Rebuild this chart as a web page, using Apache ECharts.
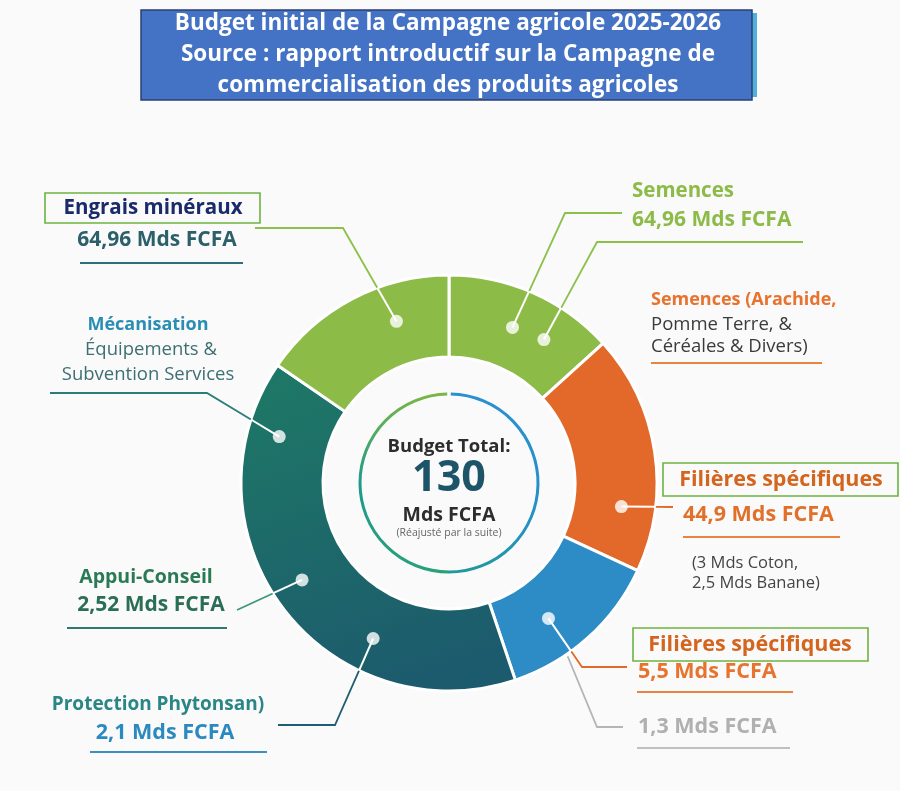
<!DOCTYPE html>
<html><head><meta charset="utf-8">
<script src="https://cdn.jsdelivr.net/npm/echarts@6/dist/echarts.min.js"></script>
<style>html,body{margin:0;padding:0;background:#fafafa}#c{width:900px;height:791px}</style>
</head><body><div id="c"></div>
<script>
// ---- data ----
const segmentNames = ['Semences', 'Filières spécifiques (44,9)', 'Filières spécifiques (5,5)', 'Mécanisation / Appui-Conseil / Protection', 'Engrais minéraux'];
const segmentArc = [47.8, 67.1, 46.5, 143.1, 55.5];           // share of the ring, in degrees
const calloutKeys = ['semences1', 'semences2', 'filieres449', 'filieres55', 'gris13', 'protection', 'appui', 'mecanisation', 'engrais'];
const calloutAngle = [22.2, 33.5, 97.8, 143.7, 145.6, 206, 236.6, 285.3, 342];
const calloutRadius = [168, 172, 174, 168, 210, 173, 176, 176, 170];
const calloutDot = [true, true, true, true, false, true, true, true, true];
const titleLines = ['Budget initial de la Campagne agricole 2025-2026', 'Source : rapport introductif sur la Campagne de', 'commercialisation des produits agricoles'];
const centerLines = ['Budget Total:', '130', 'Mds FCFA', '(Réajusté par la suite)'];

// ---- layout / style ----
const C = {cx: 449, cy: 483, r0: 126, r1: 208};
const FONT = '"Open Sans"';
const darkGrad = new echarts.graphic.LinearGradient(0.2, 0, 0.6, 1, [
  {offset: 0, color: '#1e7866'}, {offset: 1, color: '#1c5a6d'}]);
const segColors = ['#8dbb47', '#e2692a', '#2d8bc5', darkGrad, '#8dbb47'];

const chart = echarts.init(document.getElementById('c'));
chart.setOption({
  backgroundColor: '#fafafa',
  animation: false,
  polar: {center: [C.cx, C.cy], radius: C.r1},
  angleAxis: {type: 'value', min: 0, max: 360, startAngle: 90, clockwise: true, show: false,
    axisLine: {show: false}, axisTick: {show: false}, axisLabel: {show: false}, splitLine: {show: false}},
  radiusAxis: {type: 'value', min: 0, max: C.r1, show: false,
    axisLine: {show: false}, axisTick: {show: false}, axisLabel: {show: false}, splitLine: {show: false}},
  series: [
    {
      type: 'pie', center: [C.cx, C.cy], radius: [C.r0, C.r1], startAngle: 90, clockwise: true,
      silent: true, z: 2, label: {show: false}, labelLine: {show: false},
      itemStyle: {borderColor: '#ffffff', borderWidth: 3},
      data: segmentNames.map((n, i) => ({name: n, value: segmentArc[i], itemStyle: {color: segColors[i]}}))
    },
    {
      type: 'scatter', coordinateSystem: 'polar', silent: true, z: 12, symbol: 'circle',
      itemStyle: {color: '#ffffff'},
      data: calloutKeys.map((k, i) => ({name: k, value: [calloutRadius[i], calloutAngle[i]], symbolSize: calloutDot[i] ? 13 : 0}))
    }
  ]
});

// ---- annotations ----
function txt(text, x, y, size, color, o) {
  o = o || {};
  return {type: 'text', x: x, y: y, z: 20, silent: true,
    style: {text: text, fontFamily: FONT, fontSize: size, fontWeight: o.weight || 'bold', fill: color,
      align: o.align || 'center', verticalAlign: 'middle'}};
}
function hline(x1, x2, y, color) {
  return {type: 'line', z: 3, silent: true, shape: {x1: x1, y1: y, x2: x2, y2: y}, style: {stroke: color, lineWidth: 2}};
}
function box(x, y, w, h) {
  return {type: 'rect', z: 19, silent: true, shape: {x: x, y: y, width: w, height: h},
    style: {fill: 'rgba(255,255,255,0)', stroke: '#6db33f', lineWidth: 1.6}};
}
const leaderLayout = {
  semences1: {pts: [[565, 213], [622, 213]], color: '#8cc04b'},
  semences2: {pts: [[597, 242], [803, 242]], color: '#8cc04b'},
  filieres449: {pts: [[673, 507]], color: '#e2692a'},
  filieres55: {pts: [[582, 667], [627, 667]], color: '#e2692a'},
  gris13: {pts: [[597, 727], [623, 727]], color: '#b5b5b5'},
  protection: {pts: [[335, 725], [278, 725]], color: '#1f5e73'},
  appui: {pts: [[237, 610]], color: '#3a9a76'},
  mecanisation: {pts: [[207, 393], [50, 393]], color: '#2a7d78'},
  engrais: {pts: [[343, 228], [255, 228]], color: '#8cc04b'}
};

const g = [];
// title box
g.push({type: 'rect', z: 1, silent: true, shape: {x: 147, y: 13, width: 610, height: 84}, style: {fill: '#4fb0d8'}});
g.push({type: 'rect', z: 2, silent: true, shape: {x: 141, y: 10, width: 611, height: 90}, style: {fill: '#4472c4', stroke: '#2b3f73', lineWidth: 1.5}});
[24, 55, 86].forEach((y, i) => g.push(txt(titleLines[i], 448, y, 22.5, '#ffffff')));

// inner thin ring
g.push({type: 'arc', z: 3, silent: true, shape: {cx: C.cx, cy: C.cy, r: 89, startAngle: -Math.PI / 2 + 0.02, endAngle: Math.PI / 2, clockwise: true},
  style: {fill: null, lineWidth: 3, stroke: new echarts.graphic.LinearGradient(0, 0, 0, 1, [{offset: 0, color: '#2b8fd2'}, {offset: 0.75, color: '#2590c4'}, {offset: 1, color: '#1f9a9a'}])}});
g.push({type: 'arc', z: 3, silent: true, shape: {cx: C.cx, cy: C.cy, r: 89, startAngle: Math.PI / 2, endAngle: Math.PI * 1.5 - 0.02, clockwise: true},
  style: {fill: null, lineWidth: 3, stroke: new echarts.graphic.LinearGradient(0, 0, 0, 1, [{offset: 0, color: '#7cb842'}, {offset: 0.5, color: '#1e9a8c'}, {offset: 1, color: '#2aa07a'}])}});

// center texts
g.push(txt(centerLines[0], C.cx, 447, 18.5, '#2d2d2d'));
g.push(txt(centerLines[1], C.cx, 479, 43, '#1e5468'));
g.push(txt(centerLines[2], C.cx, 515, 19.5, '#2d2d2d'));
g.push(txt(centerLines[3], C.cx, 533, 10.5, '#666666', {weight: 'normal'}));

// leader lines from the dots (pixel positions from the polar scale)
calloutKeys.forEach((k, i) => {
  const P = chart.convertToPixel({seriesIndex: 1}, [calloutRadius[i], calloutAngle[i]]);
  const L = leaderLayout[k];
  const E = L.pts[0];
  let X = P;
  const dx = E[0] - P[0], dy = E[1] - P[1];
  const fx = P[0] - C.cx, fy = P[1] - C.cy;
  const a = dx * dx + dy * dy, b = 2 * (fx * dx + fy * dy), c = fx * fx + fy * fy - C.r1 * C.r1;
  if (c < 0) {
    const t = (-b + Math.sqrt(b * b - 4 * a * c)) / (2 * a);
    X = [P[0] + t * dx, P[1] + t * dy];
    g.push({type: 'polyline', z: 10, silent: true, shape: {points: [P, X]}, style: {fill: null, stroke: '#ffffff', lineWidth: 2}});
  }
  g.push({type: 'polyline', z: 3, silent: true, shape: {points: [X].concat(L.pts)}, style: {fill: null, stroke: L.color, lineWidth: 1.8}});
});

// Engrais
g.push(box(45, 193, 215, 30));
g.push(txt('Engrais minéraux', 153, 208, 20.5, '#1b2a6b'));
g.push(txt('64,96 Mds FCFA', 157, 240, 21, '#2b5f6a'));
g.push(hline(80, 243, 263, '#2e6f7c'));
// Mécanisation
g.push(txt('Mécanisation', 148, 325, 18, '#2a8db4'));
g.push(txt('Équipements &', 151, 350, 18.5, '#3e6f72', {weight: 'normal'}));
g.push(txt('Subvention Services', 148, 375, 18.5, '#3e6f72', {weight: 'normal'}));
// Semences
g.push(txt('Semences', 632, 191, 20.5, '#8cbb48', {align: 'left'}));
g.push(txt('64,96 Mds FCFA', 632, 220, 21, '#8cbb48', {align: 'left'}));
// Arachide
g.push(txt('Semences (Arachide,', 651, 300, 18, '#e8732e', {align: 'left'}));
g.push(txt('Pomme Terre, &', 651, 325, 18.5, '#3a3a3a', {align: 'left', weight: 'normal'}));
g.push(txt('Céréales & Divers)', 651, 347, 18.5, '#3a3a3a', {align: 'left', weight: 'normal'}));
g.push(hline(651, 822, 363, '#e8843f'));
// Filières 44,9
g.push(box(663, 463, 235, 33));
g.push(txt('Filières spécifiques', 781, 480, 21.5, '#d4651f'));
g.push(txt('44,9 Mds FCFA', 683, 515, 21.5, '#e0702a', {align: 'left'}));
g.push(hline(683, 840, 537, '#e8843f'));
g.push(txt('(3 Mds Coton,', 692, 563, 16.5, '#444444', {align: 'left', weight: 'normal'}));
g.push(txt('2,5 Mds Banane)', 692, 583, 16.5, '#444444', {align: 'left', weight: 'normal'}));
// Filières 5,5
g.push(box(633, 628, 235, 33));
g.push(txt('Filières spécifiques', 750, 645, 21.5, '#d4651f'));
g.push(txt('5,5 Mds FCFA', 638, 672, 21.5, '#e8732e', {align: 'left'}));
g.push(hline(637, 793, 692, '#e8843f'));
// 1,3
g.push(txt('1,3 Mds FCFA', 638, 727, 21.5, '#b0b0b0', {align: 'left'}));
g.push(hline(637, 790, 748, '#c0c0c0'));
// Appui-Conseil
g.push(txt('Appui-Conseil', 146, 577, 19.5, '#2a7a55'));
g.push(txt('2,52 Mds FCFA', 151, 605, 21, '#2a6e55'));
g.push(hline(67, 227, 628, '#2f7a6a'));
// Protection
g.push(txt('Protection Phytonsan)', 158, 705, 19, '#2a8585'));
g.push(txt('2,1 Mds FCFA', 165, 733, 21.5, '#2a8ac0'));
g.push(hline(90, 267, 752, '#3a90c0'));

chart.setOption({graphic: {elements: g}});
</script></body></html>
